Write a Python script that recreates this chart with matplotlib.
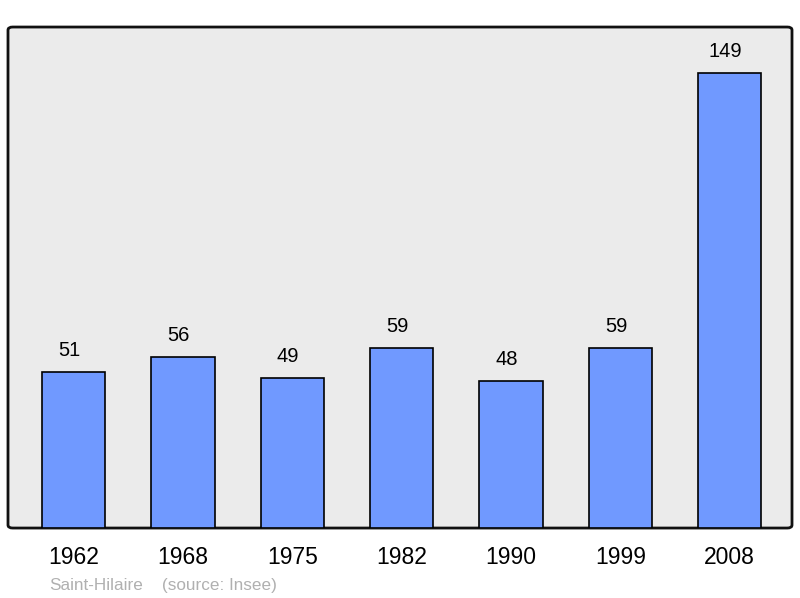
import matplotlib
matplotlib.use('Agg')
import matplotlib.pyplot as plt
from matplotlib.patches import FancyBboxPatch

# données
years = ['1962', '1968', '1975', '1982', '1990', '1999', '2008']
population = [51, 56, 49, 59, 48, 59, 149]
commune = 'Saint-Hilaire'
source = '(source: Insee)'

plt.rcParams['font.family'] = ['Liberation Sans', 'DejaVu Sans']

fig = plt.figure(figsize=(8, 5.98), dpi=100)
ax = fig.add_axes([0.01, 0.117, 0.98, 0.8378])
ax.set_facecolor('none')

# fond gris arrondi
box = FancyBboxPatch((0, 0), 1, 1, boxstyle='round,pad=0,rounding_size=0.006',
                     transform=ax.transAxes, facecolor='#ebebeb', edgecolor='#111111',
                     linewidth=2, zorder=0, clip_on=False)
ax.add_patch(box)

x = range(len(years))
ax.bar(x, population, width=0.58, color='#7099ff', edgecolor='black', linewidth=1.2, zorder=2)
for i, v in zip(x, population):
    ax.text(i - 0.04, v + 4, str(v), ha='center', va='bottom', fontsize=14.5, zorder=3)

ax.set_xlim(-0.6, 6.57)
ax.set_ylim(0, 164)
for s in ax.spines.values():
    s.set_visible(False)
ax.set_yticks([])
ax.set_xticks(list(x))
ax.set_xticklabels(years, fontsize=16.5)
ax.tick_params(axis='x', length=0, pad=13)

fig.text(0.061, 0.014, commune, color='#b0b0b0', fontsize=12.3)
fig.text(0.203, 0.014, source, color='#b0b0b0', fontsize=12.3)

fig.savefig('out.png', dpi=100)
